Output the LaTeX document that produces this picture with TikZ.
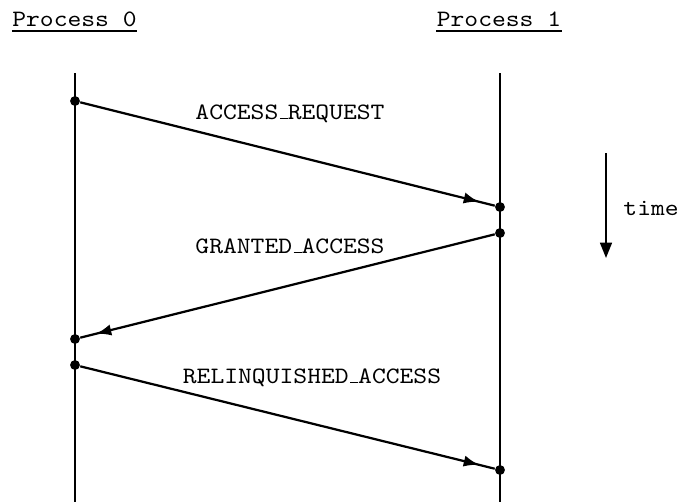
\documentclass[tikz,border=0pt]{standalone}
\usepackage{graphicx}
\usetikzlibrary{arrows.meta,decorations.markings}
\newcommand{\usc}{\kern.06em\vrule height 0.6pt depth 0pt width .3em\relax}
\newcommand{\lbl}[1]{\scalebox{1.12}[1]{\ttfamily #1}}
\begin{document}
\begin{tikzpicture}[x=0.4255pt,y=-0.4255pt,
  lifeline/.style={line width=1.25pt},
  msg/.style={line width=0.95pt, postaction={decorate},
    decoration={markings, mark=at position 0.962 with {\arrow{Latex[length=6.5pt,width=4.8pt]}}}},
  evt/.style={circle, fill=black, inner sep=0pt, minimum size=4.2pt},
  txt/.style={inner sep=0pt, anchor=base},
  ul/.style={line width=0.9pt}]
\useasboundingbox (0,0) rectangle (681,502);
% headers
\node[txt] (p0) at (74.5,26.5) {\lbl{Process 0}};
\node[txt] (p1) at (499,26.5) {\lbl{Process 1}};
\draw[ul] ([yshift=-1.8pt]p0.base west) -- ([yshift=-1.8pt]p0.base east);
\draw[ul] ([yshift=-1.8pt]p1.base west) -- ([yshift=-1.8pt]p1.base east);
% lifelines
\coordinate (t0) at (75,73);
\coordinate (b0) at (75,502);
\coordinate (t1) at (500,73);
\coordinate (b1) at (500,502);
\draw[lifeline] (t0) -- (b0);
\draw[lifeline] (t1) -- (b1);
% events
\node[evt] (e1) at (75,101) {};
\node[evt] (e2) at (500,207) {};
\node[evt] (e3) at (500,233) {};
\node[evt] (e4) at (75,339) {};
\node[evt] (e5) at (75,365) {};
\node[evt] (e6) at (500,470) {};
% messages
\draw[msg] (e1) -- (e2);
\draw[msg] (e3) -- (e4);
\draw[msg] (e5) -- (e6);
\node[txt] (l1) at (290,119) {\lbl{ACCESS\usc REQUEST}};
\node[txt] (l2) at (290,253) {\lbl{GRANTED\usc ACCESS}};
\node[txt] (l3) at (312,383) {\lbl{RELINQUISHED\usc ACCESS}};
% time
\coordinate (ta) at (606,153);
\coordinate (tb) at (606,258);
\draw[line width=0.9pt, -{Stealth[length=6.5pt,width=5pt,inset=0pt]}] (ta) -- (tb);
\node[txt, anchor=base west] (tm) at (623,215) {\lbl{time}};
\end{tikzpicture}
\end{document}
